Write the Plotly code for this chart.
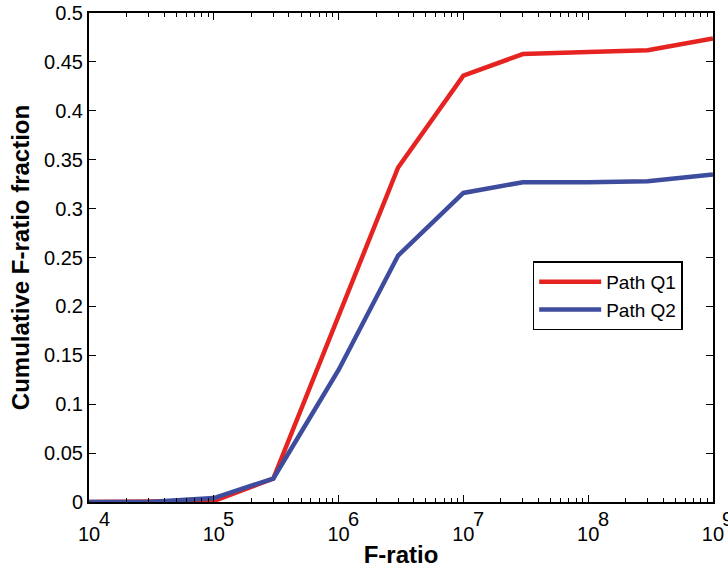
import math
import plotly.graph_objects as go

f_ratio = [1e4, 3e4, 1e5, 3e5, 1e6, 3e6, 1e7, 3e7, 1e8, 3e8, 1e9]
path_q1 = [0.0, 0.0, 0.001, 0.024, 0.19, 0.342, 0.436, 0.458, 0.460, 0.462, 0.474]
path_q2 = [0.0, 0.0, 0.004, 0.024, 0.135, 0.252, 0.316, 0.327, 0.327, 0.328, 0.335]
x_ticks = [1e4, 1e5, 1e6, 1e7, 1e8, 1e9]
x_exponents = ["4", "5", "6", "7", "8", "9"]
y_ticks = [0, 0.05, 0.1, 0.15, 0.2, 0.25, 0.3, 0.35, 0.4, 0.45, 0.5]
y_labels = ["0", "0.05", "0.1", "0.15", "0.2", "0.25", "0.3", "0.35", "0.4", "0.45", "0.5"]

FONT = "Liberation Sans, Arial, sans-serif"

fig = go.Figure()
fig.add_trace(go.Scatter(x=f_ratio, y=path_q1, mode="lines", name="Path Q1",
                         line=dict(color="#E52421", width=4.5)))
fig.add_trace(go.Scatter(x=f_ratio, y=path_q2, mode="lines", name="Path Q2",
                         line=dict(color="#3E4C9E", width=4.5)))

axis_common = dict(showline=True, linecolor="black", linewidth=2, mirror="ticks",
                   ticks="inside", ticklen=7, tickwidth=1.2, tickcolor="black",
                   showgrid=False, zeroline=False, automargin=False,
                   tickfont=dict(family=FONT, size=20, color="black"))

fig.update_xaxes(type="log", range=[4, 9.0005], tickvals=x_ticks, ticktext=["10"] * len(x_ticks),
                 ticklabelstandoff=13,
                 minor=dict(ticks="inside", ticklen=4, tickcolor="black", dtick="D1", showgrid=False),
                 title=dict(text="<b>F-ratio</b>", font=dict(family=FONT, size=24, color="black"), standoff=2),
                 **axis_common)
fig.update_yaxes(range=[0, 0.5], tickvals=y_ticks, ticktext=y_labels,
                 title=dict(text="<b>Cumulative F-ratio fraction</b>", font=dict(family=FONT, size=24, color="black"), standoff=8),
                 **axis_common)

for tv, ex in zip(x_ticks, x_exponents):
    fig.add_annotation(x=math.log10(tv), xref="x", y=0, yref="paper",
                       text=ex, showarrow=False, xanchor="center", yanchor="middle",
                       xshift=15, yshift=-17,
                       font=dict(family=FONT, size=20, color="black"))

fig.update_layout(
    width=728, height=571,
    margin=dict(l=89, r=15, t=13, b=69),
    plot_bgcolor="white", paper_bgcolor="white",
    legend=dict(x=0.711, y=0.492, xanchor="left", yanchor="top",
                bgcolor="white", bordercolor="black", borderwidth=1.5,
                font=dict(family=FONT, size=19, color="black"),
                itemwidth=62, tracegroupgap=0),
    showlegend=True,
)

fig.write_html("out.html")
